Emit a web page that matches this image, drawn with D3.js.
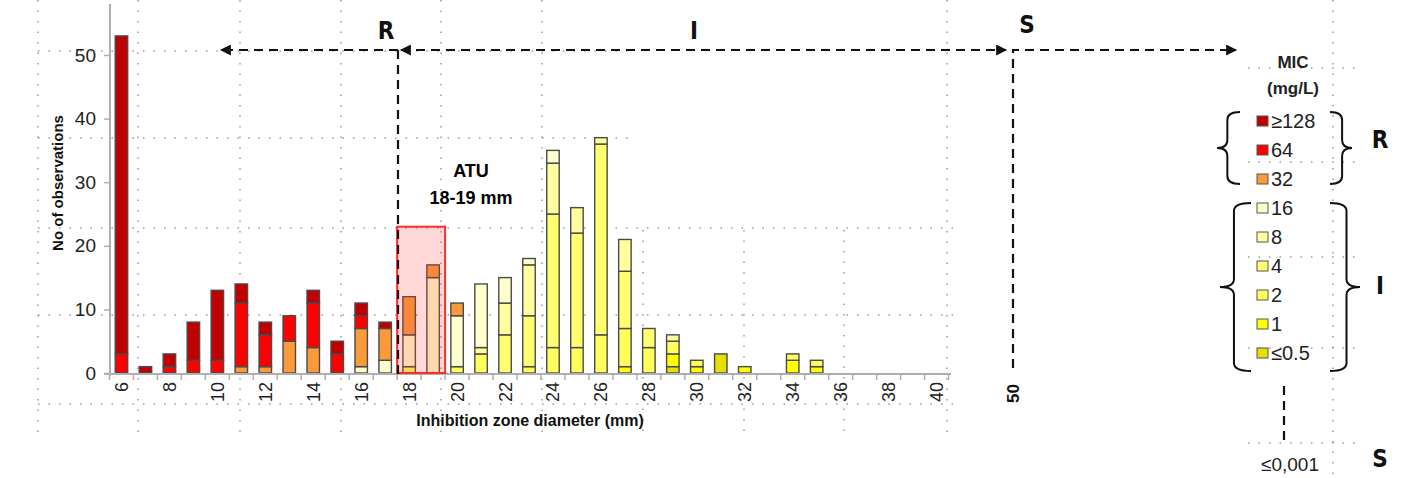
<!DOCTYPE html>
<html>
<head>
<meta charset="utf-8">
<script src="https://cdn.jsdelivr.net/npm/d3@7"></script>
<style>
  body { margin: 0; background: #fff; }
  svg { display: block; font-family: "Liberation Sans", Arial, sans-serif; }
</style>
</head>
<body>
<svg id="chart" width="1401" height="478"></svg>
<script>
// inhibition zone diameter (mm), one bar each
var zones = [6,7,8,9,10, 11,12,13,14,15, 16,17,18,19,20, 21,22,23,24,25, 26,27,28,29,30, 31,32,33,34,35, 36,37,38,39,40];
var xLabels = [6,8,10,12,14,16,18,20,22,24,26,28,30,32,34,36,38,40];
var yTicks = [0,10,20,30,40,50];

// number of isolates per MIC class (mg/L)
var mic128 = [50,1,2,6,11, 3,2,0,2,2, 2,1,0,0,0, 0,0,0,0,0, 0,0,0,0,0, 0,0,0,0,0, 0,0,0,0,0];
var mic64  = [3,0,1,2,2, 10,5,4,7,3, 2,0,0,0,0, 0,0,0,0,0, 0,0,0,0,0, 0,0,0,0,0, 0,0,0,0,0];
var mic32  = [0,0,0,0,0, 1,1,5,4,0, 6,5,6,2,2, 0,0,0,0,0, 0,0,0,0,0, 0,0,0,0,0, 0,0,0,0,0];
var mic16  = [0,0,0,0,0, 0,0,0,0,0, 1,2,5,15,8, 10,4,1,2,0, 0,0,0,0,0, 0,0,0,0,0, 0,0,0,0,0];
var mic8   = [0,0,0,0,0, 0,0,0,0,0, 0,0,0,0,0, 1,5,8,8,4, 1,5,0,1,0, 0,0,0,0,0, 0,0,0,0,0];
var mic4   = [0,0,0,0,0, 0,0,0,0,0, 0,0,0,0,0, 0,6,8,21,18, 30,9,3,0,0, 0,0,0,0,0, 0,0,0,0,0];
var mic2   = [0,0,0,0,0, 0,0,0,0,0, 0,0,1,0,1, 3,0,1,4,4, 6,6,4,2,1, 0,0,0,1,1, 0,0,0,0,0];
var mic1   = [0,0,0,0,0, 0,0,0,0,0, 0,0,0,0,0, 0,0,0,0,0, 0,1,0,2,1, 0,1,0,2,1, 0,0,0,0,0];
var mic05  = [0,0,0,0,0, 0,0,0,0,0, 0,0,0,0,0, 0,0,0,0,0, 0,0,0,1,0, 3,0,0,0,0, 0,0,0,0,0];

// bottom to top of each bar
var micKeys = ["≤0.5","1","2","4","8","16","32","64","≥128"];
var micSeries = [mic05, mic1, mic2, mic4, mic8, mic16, mic32, mic64, mic128];
var micColors = ["#e6e000","#ffff00","#ffff5c","#ffff70","#ffff9e","#ffffcc","#fa9a3a","#ff0000","#c00000"];

var svg = d3.select("#chart");
var color = d3.scaleOrdinal().domain(micKeys).range(micColors);

var rows = zones.map(function(z, i) {
  var r = {zone: z};
  micKeys.forEach(function(k, j) { r[k] = micSeries[j][i]; });
  return r;
});

var x = d3.scaleBand().domain(zones).range([109, 949]).paddingInner(0.48).paddingOuter(0.26);
var y = d3.scaleLinear().domain([0, 50]).range([373, 55]);
var bw = x.bandwidth(), step = x.step();

// dotted background grid
var grid = svg.append("g").attr("stroke", "#9a9a9a").attr("stroke-width", 1.5)
  .attr("stroke-dasharray", "1.5,9").attr("fill", "none");
[38,138,240,341,441,542,643,744,844,947].forEach(function(gx) {
  var top = (gx > 600 && gx < 900) ? 230 : 0;
  grid.append("line").attr("x1", gx).attr("x2", gx).attr("y1", top).attr("y2", 440);
});
[51,138,228,315,404].forEach(function(gy) {
  grid.append("line").attr("x1", 38).attr("x2", gy < 200 ? 630 : 955).attr("y1", gy).attr("y2", gy);
});
grid.append("line").attr("x1", 1333).attr("x2", 1333).attr("y1", 0).attr("y2", 478);
[68,162,257,348,443].forEach(function(gy) {
  grid.append("line").attr("x1", 1248).attr("x2", 1356).attr("y1", gy).attr("y2", gy);
});

// stacked bars
var stacked = d3.stack().keys(micKeys)(rows);
svg.append("g").selectAll("g")
  .data(stacked)
  .join("g")
    .attr("fill", function(d) { return color(d.key); })
  .selectAll("rect")
  .data(function(d) { return d.filter(function(s) { return s[1] > s[0]; }); })
  .join("rect")
    .attr("x", function(d) { return x(d.data.zone); })
    .attr("y", function(d) { return y(d[1]); })
    .attr("width", bw)
    .attr("height", function(d) { return y(d[0]) - y(d[1]); })
    .attr("stroke", "#4a4a4a")
    .attr("stroke-width", 1.4);

// axes
var axisCol = "#b0b0b0";
svg.append("line").attr("x1", 110).attr("x2", 110).attr("y1", 4).attr("y2", 376)
  .attr("stroke", axisCol).attr("stroke-width", 2);
svg.append("line").attr("x1", 104).attr("x2", 951).attr("y1", 374).attr("y2", 374)
  .attr("stroke", axisCol).attr("stroke-width", 2);

var yAxis = svg.append("g")
  .attr("transform", "translate(110,0)")
  .call(d3.axisLeft(y).tickValues(yTicks).tickSize(6).tickPadding(8));
yAxis.select(".domain").remove();
yAxis.selectAll(".tick line").attr("stroke", axisCol).attr("stroke-width", 1.5);
yAxis.selectAll(".tick text").attr("font-size", 19).attr("fill", "#222")
  .attr("font-family", "Liberation Sans, Arial, sans-serif");

var xAxis = svg.append("g")
  .attr("transform", "translate(0,374)")
  .call(d3.axisBottom(x).tickValues(xLabels).tickSize(0).tickPadding(0));
xAxis.select(".domain").remove();
xAxis.selectAll(".tick text")
  .attr("transform", "rotate(-90)")
  .attr("text-anchor", "end")
  .attr("dy", "0.36em")
  .attr("x", -8).attr("y", 0)
  .attr("font-size", 18).attr("fill", "#222")
  .attr("font-family", "Liberation Sans, Arial, sans-serif");
var edges = zones.map(function(z) { return x(z) + bw / 2 - step / 2; });
edges.push(x(zones[zones.length - 1]) + bw / 2 + step / 2);
svg.append("g").selectAll("line").data(edges).join("line")
  .attr("x1", function(d) { return d; }).attr("x2", function(d) { return d; })
  .attr("y1", 374).attr("y2", 380)
  .attr("stroke", axisCol).attr("stroke-width", 1.5);

svg.append("text")
  .attr("transform", "translate(58,183) rotate(-90)")
  .attr("text-anchor", "middle").attr("dy", "0.35em")
  .attr("font-size", 15).attr("font-weight", "bold").attr("fill", "#111")
  .text("No of observations");
svg.append("text")
  .attr("x", 530).attr("y", 420).attr("text-anchor", "middle").attr("dy", "0.35em")
  .attr("font-size", 16).attr("font-weight", "bold").attr("fill", "#111")
  .text("Inhibition zone diameter (mm)");

// ATU box over 18-19 mm
svg.append("rect")
  .attr("x", x(18) - (step - bw) / 2).attr("y", y(23))
  .attr("width", step * 2).attr("height", y(0) - y(23))
  .attr("fill", "rgba(255,60,60,0.2)")
  .attr("stroke", "#ff2a2a").attr("stroke-width", 2);
svg.append("text").attr("x", 471).attr("y", 171).attr("text-anchor", "middle").attr("dy", "0.35em")
  .attr("font-size", 18).attr("font-weight", "bold").text("ATU");
svg.append("text").attr("x", 471).attr("y", 198).attr("text-anchor", "middle").attr("dy", "0.35em")
  .attr("font-size", 18).attr("font-weight", "bold").text("18-19 mm");

// breakpoint arrows
var defs = svg.append("defs");
defs.append("marker").attr("id", "arr")
  .attr("viewBox", "0 0 10 10").attr("refX", 9).attr("refY", 5)
  .attr("markerUnits", "userSpaceOnUse").attr("markerWidth", 12).attr("markerHeight", 11)
  .attr("orient", "auto-start-reverse")
  .append("path").attr("d", "M0,0 L10,5 L0,10 z").attr("fill", "#111");

var dash = svg.append("g").attr("fill", "none").attr("stroke", "#111")
  .attr("stroke-width", 2.2).attr("stroke-dasharray", "9,6");
dash.append("path").attr("d", "M398,50 L221,50").attr("marker-end", "url(#arr)");
dash.append("path").attr("d", "M401,50 L1006,50")
  .attr("marker-start", "url(#arr)").attr("marker-end", "url(#arr)");
dash.append("path").attr("d", "M398,50 L398,374");
dash.append("path").attr("d", "M1013,368 L1013,50 L1236,50").attr("marker-end", "url(#arr)");
dash.append("path").attr("d", "M1284,386 L1284,444");

var bigFont = "DejaVu Sans Condensed, DejaVu Sans, sans-serif";
[["R", 386, 30], ["I", 694, 30], ["S", 1027, 24], ["R", 1380, 139], ["I", 1380, 285], ["S", 1380, 458]]
  .forEach(function(t) {
    svg.append("text").attr("x", t[1]).attr("y", t[2]).attr("text-anchor", "middle").attr("dy", "0.36em")
      .attr("font-family", bigFont).attr("font-size", 24).attr("font-weight", "bold").attr("fill", "#111")
      .text(t[0]);
  });
svg.append("text")
  .attr("transform", "translate(1013,384) rotate(-90)")
  .attr("text-anchor", "end").attr("dy", "0.36em")
  .attr("font-size", 17).attr("font-weight", "bold").attr("fill", "#111")
  .text("50");

// legend
svg.append("text").attr("x", 1293).attr("y", 62).attr("text-anchor", "middle").attr("dy", "0.35em")
  .attr("font-size", 17).attr("font-weight", "bold").attr("fill", "#222").text("MIC");
svg.append("text").attr("x", 1293).attr("y", 88).attr("text-anchor", "middle").attr("dy", "0.35em")
  .attr("font-size", 17).attr("font-weight", "bold").attr("fill", "#222").text("(mg/L)");

var legendKeys = micKeys.slice().reverse();
var ly = d3.scalePoint().domain(legendKeys).range([121, 353]);
var leg = svg.append("g").selectAll("g").data(legendKeys).join("g")
  .attr("transform", function(d) { return "translate(1257," + ly(d) + ")"; });
leg.append("rect").attr("x", 0).attr("y", -5).attr("width", 11).attr("height", 10)
  .attr("fill", function(d) { return color(d); })
  .attr("stroke", "#555").attr("stroke-width", 1);
leg.append("text").attr("x", 14).attr("dy", "0.36em")
  .attr("font-size", 20).attr("fill", "#222")
  .text(function(d) { return d; });
svg.append("text").attr("x", 1290).attr("y", 464).attr("text-anchor", "middle").attr("dy", "0.36em")
  .attr("font-size", 19).attr("fill", "#222").text("≤0,001");

// curly braces: tip at (tx, mid), dir -1 = "{", +1 = "}"
function brace(tx, y1, y2, w, dir) {
  var xe = tx - dir * w, xs = tx - dir * w * 0.45, ym = (y1 + y2) / 2, r = 8;
  return "M" + xe + "," + y1 + " Q" + xs + "," + y1 + " " + xs + "," + (y1 + r) +
    " L" + xs + "," + (ym - r) + " Q" + xs + "," + ym + " " + tx + "," + ym +
    " Q" + xs + "," + ym + " " + xs + "," + (ym + r) +
    " L" + xs + "," + (y2 - r) + " Q" + xs + "," + y2 + " " + xe + "," + y2;
}
var br = svg.append("g").attr("fill", "none").attr("stroke", "#111").attr("stroke-width", 2);
br.append("path").attr("d", brace(1217, 112, 184, 23, -1));
br.append("path").attr("d", brace(1352, 112, 184, 22, 1));
br.append("path").attr("d", brace(1220, 203, 371, 31, -1));
br.append("path").attr("d", brace(1360, 203, 371, 30, 1));
</script>
</body>
</html>
